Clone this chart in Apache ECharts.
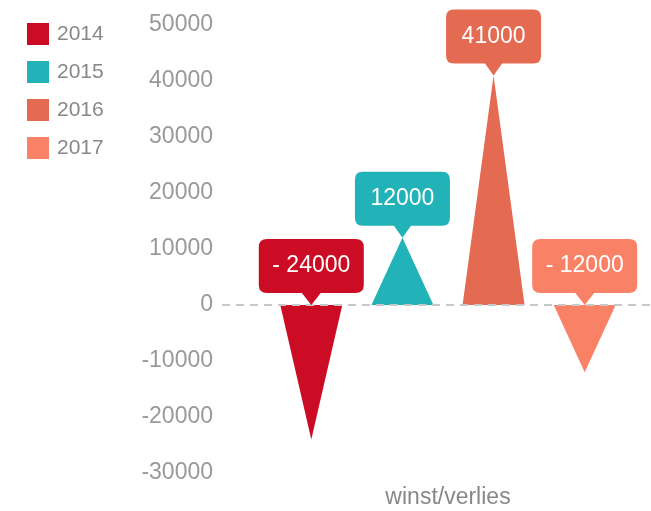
<!DOCTYPE html>
<html>
<head>
<meta charset="utf-8">
<script src="https://cdn.jsdelivr.net/npm/echarts@6/dist/echarts.min.js"></script>
<style>
  html, body { margin: 0; padding: 0; background: #fff; }
  #chart { width: 651px; height: 511px; }
</style>
</head>
<body>
<div id="chart"></div>
<script>
const categories = ["winst/verlies"];
const years = ["2014", "2015", "2016", "2017"];
const values = [-24000, 12000, 41000, -12000];
const colors = ["#cc0b24", "#21b3b7", "#e46a51", "#f98166"];
const yTicks = { min: -30000, max: 50000, interval: 10000 };

// rounded box with a small pointer at the bottom
const callout = "path://M8,0 L92,0 Q100,0 100,8 L100,46 Q100,54 92,54 L59,54 L50,66 L41,54 L8,54 Q0,54 0,46 L0,8 Q0,0 8,0 Z";
// pictorialBar flips it by itself for negative values
const tri = "path://M50,0 L100,100 L0,100 Z";

function fmt(v) {
  return v < 0 ? "- " + Math.abs(v) : String(v);
}

const chart = echarts.init(document.getElementById("chart"));

const series = years.map(function (y, i) {
  const v = values[i];
  const s = {
    name: y,
    type: "pictorialBar",
    barWidth: 62,
    barGap: "47%",
    symbol: tri,
    symbolSize: ["100%", "100%"],
    itemStyle: { color: colors[i] },
    data: [v],
    markPoint: {
      silent: true,
      symbol: callout,
      symbolSize: [fmt(v).length > 5 ? 105 : 95, 66],
      symbolOffset: [0, "-50%"],
      itemStyle: { color: colors[i] },
      label: {
        show: true,
        position: "inside",
        offset: [0, -6],
        color: "#fff",
        fontSize: 23,
        fontFamily: "Liberation Sans",
        formatter: function () { return fmt(v); }
      },
      data: [{ coord: [categories[0], Math.max(v, 0)] }]
    }
  };
  if (i === 0) {
    s.markLine = {
      silent: true,
      symbol: "none",
      label: { show: false },
      lineStyle: { color: "#c8c8c8", type: [8, 6], width: 2 },
      data: [{ yAxis: 0 }]
    };
  }
  return s;
});

chart.setOption({
  animation: false,
  textStyle: { fontFamily: "Liberation Sans" },
  legend: {
    orient: "vertical",
    left: 22,
    top: 18,
    icon: "rect",
    itemWidth: 22,
    itemHeight: 22,
    itemGap: 16,
    textStyle: { color: "#888", fontSize: 21, padding: [0, 0, 0, 3] },
    data: years
  },
  grid: { left: 222, right: -23, top: 25, bottom: 38, containLabel: false, outerBoundsMode: "none" },
  xAxis: {
    type: "category",
    data: categories,
    axisLine: { show: false, onZero: false },
    axisTick: { show: false },
    axisLabel: { color: "#888", fontSize: 23, margin: 13 }
  },
  yAxis: {
    type: "value",
    min: yTicks.min,
    max: yTicks.max,
    interval: yTicks.interval,
    axisLine: { show: false },
    axisTick: { show: false },
    splitLine: { show: false },
    axisLabel: {
      color: "#999",
      fontSize: 23,
      margin: 9,
      formatter: function (v) { return String(v); }
    }
  },
  series: series
});
</script>
</body>
</html>
